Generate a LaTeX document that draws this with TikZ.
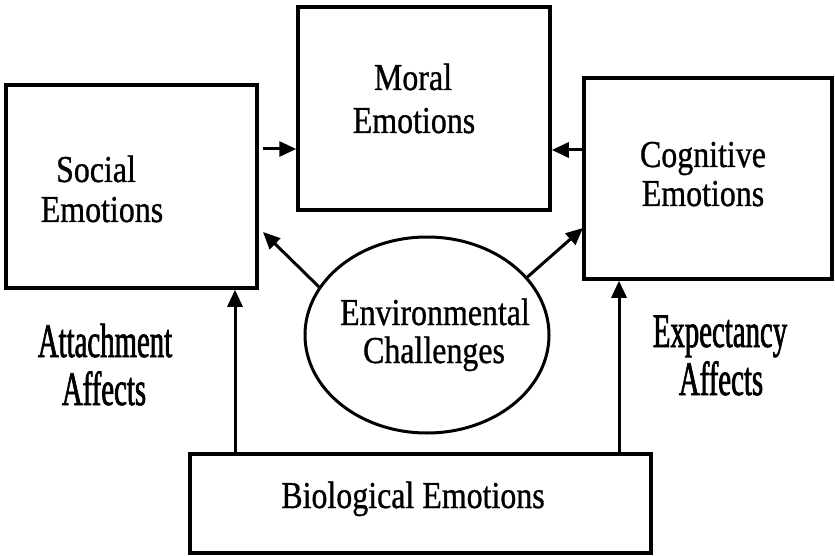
\documentclass[tikz,border=0pt]{standalone}
\usepackage{fontspec}
\setmainfont{Liberation Serif}
\newfontfamily\boxfont[FakeStretch=0.84,FakeBold=0.8]{Liberation Serif}
\newfontfamily\labfont[FakeStretch=0.6,FakeBold=1.4]{Liberation Serif}
\usetikzlibrary{arrows.meta,shapes.geometric}
\begin{document}
\begin{tikzpicture}[x=1pt,y=-1pt,
  box/.style={draw,line width=3.5pt,rectangle,inner sep=0pt},
  oval/.style={draw,line width=3pt,ellipse,inner sep=0pt},
  txt/.style={anchor=base,inner sep=0pt,font=\boxfont\fontsize{38}{41}\selectfont},
  lab/.style={anchor=base,inner sep=0pt,font=\labfont\fontsize{48}{48}\selectfont},
  arr/.style={line width=3pt,-{Triangle[length=17pt,width=15pt]}}]
\fill[white] (0,0) rectangle (835,556);
\useasboundingbox (0,0) rectangle (835,556);
% boxes
\node[box,minimum width=251pt,minimum height=203pt] (soc) at (131.5,186.5) {};
\node[box,minimum width=252pt,minimum height=203pt] (mor) at (424,108.5) {};
\node[box,minimum width=248pt,minimum height=201pt] (cog) at (708,178.5) {};
\node[box,minimum width=461pt,minimum height=99pt] (bio) at (420.5,503.5) {};
\node[oval,minimum width=244pt,minimum height=196pt] (env) at (427,335) {};
% texts
\node[txt] (soc1) at (96,182) {Social};
\node[txt] (soc2) at (102,222) {Emotions};
\node[txt] (mor1) at (413,90) {Moral};
\node[txt] (mor2) at (414,133) {Emotions};
\node[txt] (cog1) at (703,167) {Cognitive};
\node[txt] (cog2) at (703,206) {Emotions};
\node[txt] (env1) at (435,325) {Environmental};
\node[txt] (env2) at (434,363) {Challenges};
\node[txt] (bio1) at (413,508) {Biological Emotions};
\node[lab] (att1) at (105,357) {Attachment};
\node[lab] (att2) at (104,405) {Affects};
\node[lab] (exp1) at (720,347) {Expectancy};
\node[lab] (exp2) at (721,395) {Affects};
% connectors
\coordinate (sm) at (263,149);
\coordinate (cm) at (584,150);
\coordinate (es) at (263,232);
\coordinate (ec) at (583,228);
\coordinate (vl) at (235,454);
\coordinate (vr) at (619,454);
\draw[arr] (sm) -- (sm -| mor.west);
\draw[arr] (cm -| cog.west) -- (cm -| mor.east);
\draw[arr] (env.156) -- (es);
\draw[arr] (env.30) -- (ec);
\draw[arr] (vl |- bio.north) -- (vl |- soc.south);
\draw[arr] (vr |- bio.north) -- (vr |- cog.south);
\end{tikzpicture}
\end{document}
